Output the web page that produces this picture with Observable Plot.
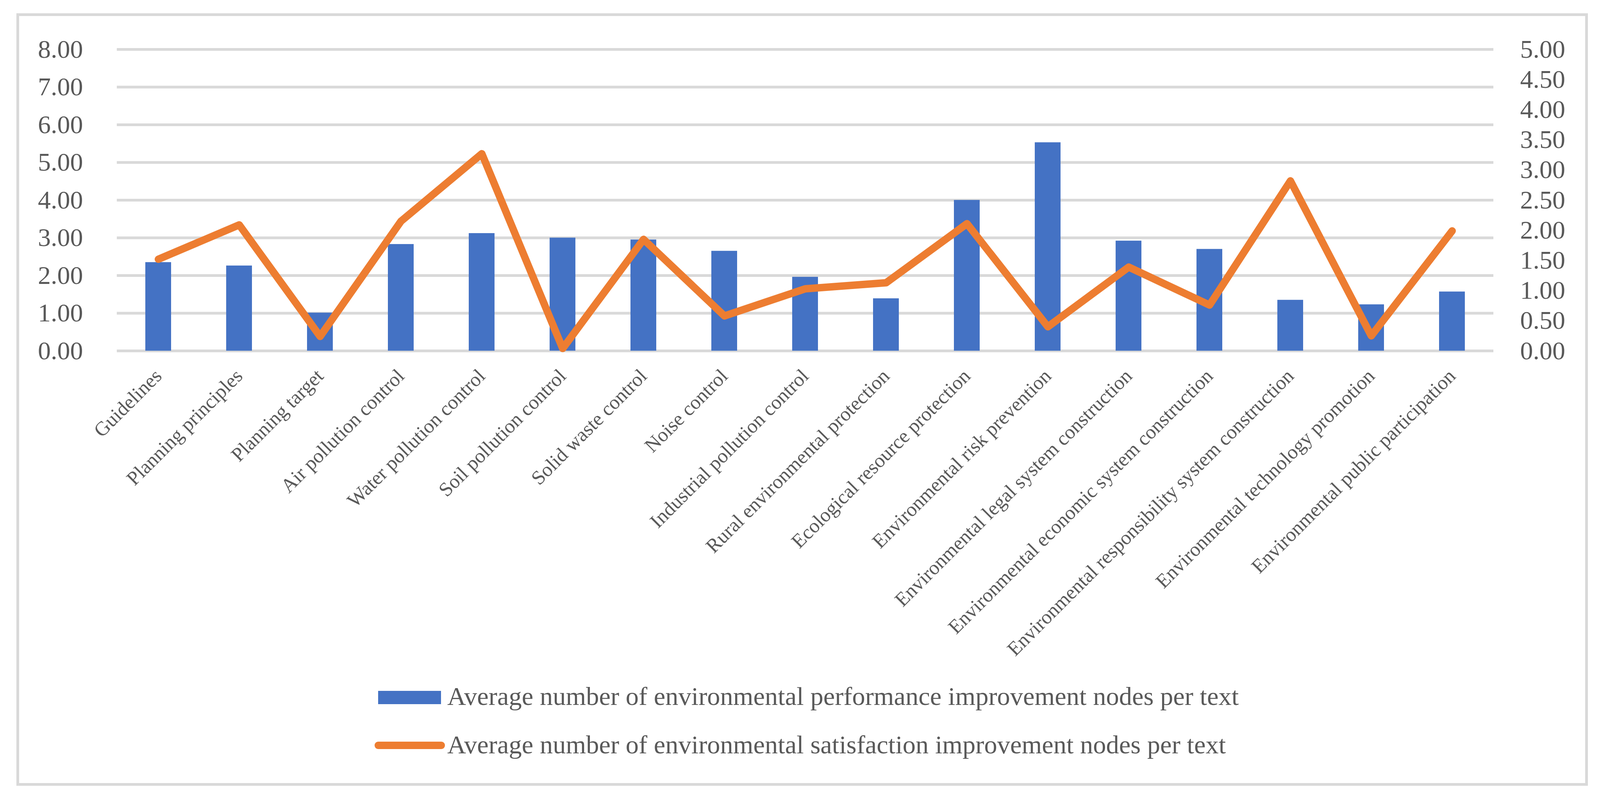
<!DOCTYPE html>
<html>
<head>
<meta charset="utf-8">
<script src="https://cdn.jsdelivr.net/npm/d3@7"></script>
<script src="https://cdn.jsdelivr.net/npm/@observablehq/plot@0.6"></script>
<style>
  html, body { margin: 0; padding: 0; background: #ffffff; }
  body { position: relative; width: 4117px; height: 2051px; overflow: hidden; font-family: "Liberation Serif", "Times New Roman", serif; }
  #chart { position: absolute; left: 0; top: 0; }
  #frame { position: absolute; left: 42px; top: 34px; width: 4023px; height: 1978px; box-sizing: border-box; border: 7px solid #d9d9d9; pointer-events: none; }
  .leg-text { position: absolute; font-size: 66.5px; line-height: 66.5px; color: #595959; white-space: nowrap; }
  .sw-bar { position: absolute; background: #4472C4; }
  .sw-line { position: absolute; background: #ED7D31; border-radius: 9px; }
</style>
</head>
<body>
<div id="chart"></div>
<div id="frame"></div>
<div class="sw-bar" style="left:968px; top:1769px; width:161px; height:34px;"></div>
<div class="leg-text" id="leg1" style="left:1145px; top:1750px;"></div>
<div class="sw-line" style="left:959px; top:1899px; width:180px; height:19px;"></div>
<div class="leg-text" id="leg2" style="left:1145px; top:1874px;"></div>
<script>
const categories = [
  "Guidelines",
  "Planning principles",
  "Planning target",
  "Air pollution control",
  "Water pollution control",
  "Soil pollution control",
  "Solid waste control",
  "Noise control",
  "Industrial pollution control",
  "Rural environmental protection",
  "Ecological resource protection",
  "Environmental risk prevention",
  "Environmental legal system construction",
  "Environmental economic system construction",
  "Environmental responsibility system construction",
  "Environmental technology promotion",
  "Environmental public participation"
];
const performanceNodes = [2.35, 2.26, 1.01, 2.83, 3.12, 3.00, 2.95, 2.65, 1.96, 1.39, 4.00, 5.53, 2.92, 2.70, 1.35, 1.23, 1.57];
const satisfactionNodes = [1.52, 2.09, 0.24, 2.15, 3.27, 0.04, 1.85, 0.58, 1.03, 1.13, 2.11, 0.40, 1.39, 0.76, 2.82, 0.25, 1.99];
const leftTicks = [0, 1, 2, 3, 4, 5, 6, 7, 8];
const rightTicks = [0, 0.5, 1, 1.5, 2, 2.5, 3, 3.5, 4, 4.5, 5];
const seriesNames = [
  "Average number of environmental performance improvement nodes per text",
  "Average number of environmental satisfaction improvement nodes per text"
];

const leftMax = 8, rightMax = 5;
const ratio = leftMax / rightMax;

const data = categories.map((c, i) => ({cat: c, perf: performanceNodes[i], sat: satisfactionNodes[i]}));

const W = 4117, H = 1700;
const plot = Plot.plot({
  width: W,
  height: H,
  marginLeft: 299,
  marginRight: 294,
  marginTop: 126,
  marginBottom: H - 898,
  style: {background: "transparent", fontFamily: "Liberation Serif, Times New Roman, serif", fontSize: "66px", color: "#595959", overflow: "visible"},
  x: {domain: categories, paddingInner: 0.68, paddingOuter: 0.34, label: null},
  y: {domain: [0, leftMax], label: null},
  marks: [
    Plot.ruleY(leftTicks, {stroke: "#d9d9d9", strokeWidth: 7}),
    Plot.barY(data, {x: "cat", y: "perf", fill: "#4472C4"}),
    Plot.lineY(data, {x: "cat", y: d => d.sat * ratio, stroke: "#ED7D31", strokeWidth: 19, strokeLinejoin: "round", strokeLinecap: "round"}),
    Plot.axisY(leftTicks, {anchor: "left", label: null, tickSize: 0, tickPadding: 87, tickFormat: d => d.toFixed(2), fontSize: 66, fill: "#595959"}),
    Plot.axisY(rightTicks.map(v => v * ratio), {anchor: "right", label: null, tickSize: 0, tickPadding: 68, tickFormat: d => (d / ratio).toFixed(2), fontSize: 66, fill: "#595959"}),
    Plot.axisX({anchor: "bottom", label: null, tickSize: 0, tickPadding: 56, tickRotate: -45, fontSize: 51, fill: "#595959"})
  ]
});
document.getElementById("chart").appendChild(plot);
document.getElementById("leg1").textContent = seriesNames[0];
document.getElementById("leg2").textContent = seriesNames[1];
</script>
</body>
</html>
